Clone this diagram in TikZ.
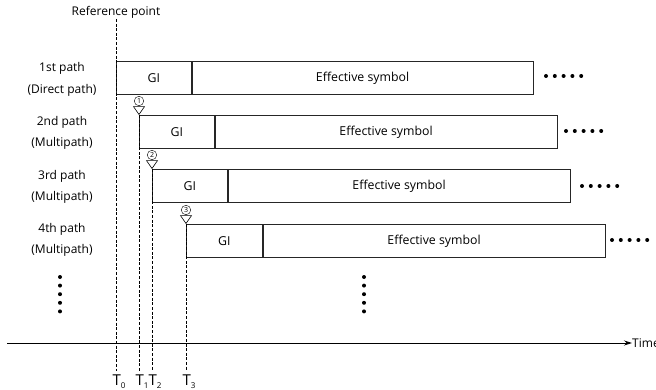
\documentclass[tikz,border=0pt]{standalone}
\usepackage{fontspec}
\setmainfont{Open Sans}
\usetikzlibrary{arrows.meta,shapes.geometric}
\begin{document}
\begin{tikzpicture}[x=1pt,y=-1pt,
  seg/.style={draw=black!85,line width=0.7pt,rectangle,inner sep=0pt,minimum height=33pt,anchor=north west,font=\fontsize{12.3}{14}\selectfont},
  lbl/.style={font=\fontsize{12}{14}\selectfont,inner sep=0pt},
  tlbl/.style={font=\fontsize{15}{16}\selectfont,inner sep=0pt,anchor=base},
  tmark/.style={draw,line width=0.6pt,isosceles triangle,shape border rotate=270,isosceles triangle apex angle=70,inner sep=0pt,minimum height=6pt,minimum width=11pt,anchor=apex},
  num/.style={draw,line width=0.4pt,circle,inner sep=0pt,minimum size=9.5pt,font=\fontsize{7}{8}\selectfont},
  dline/.style={dashed,line width=0.5pt,dash pattern=on 3pt off 1.6pt},
  dot/.style={fill,circle,inner sep=0pt,minimum size=4pt}]
\useasboundingbox (0,0) rectangle (656,390);

% reference point
\node[lbl] (ref) at (116,12) {Reference point};
\coordinate (r0) at (116,19);

% path labels
\node[lbl] (p1a) at (62,68) {1st path};
\node[lbl] (p1b) at (62,90) {(Direct path)};
\node[lbl] (p2a) at (62,122) {2nd path};
\node[lbl] (p2b) at (62,143) {(Multipath)};
\node[lbl] (p3a) at (62,176) {3rd path};
\node[lbl] (p3b) at (62,197) {(Multipath)};
\node[lbl] (p4a) at (62,229) {4th path};
\node[lbl] (p4b) at (62,250) {(Multipath)};

% boxes
\node[seg,minimum width=75pt] (g1) at (116,61) {GI};
\node[seg,minimum width=341pt] (e1) at (g1.north east) {Effective symbol};
\node[seg,minimum width=75pt] (g2) at (139,115) {GI};
\node[seg,minimum width=342pt] (e2) at (g2.north east) {Effective symbol};
\node[seg,minimum width=75pt] (g3) at (152,169) {GI};
\node[seg,minimum width=342pt] (e3) at (g3.north east) {Effective symbol};
\node[seg,minimum width=76pt] (g4) at (186,224) {GI};
\node[seg,minimum width=342pt] (e4) at (g4.north east) {Effective symbol};

% trailing dots
\foreach \i/\x/\y in {1/546/76,2/566/131,3/582/186,4/612/240}{
  \foreach \k in {0,...,4}{
    \node[dot] (h\i\k) at (\x+8.8*\k,\y) {};
  }
}

% vertical dots
\foreach \k in {0,...,4}{
  \node[dot] (vl\k) at (60,277+8.6*\k) {};
  \node[dot] (vm\k) at (364,277+8.6*\k) {};
}

% triangles and circled numbers
\node[tmark] (t1) at (139,115) {};
\node[num] (n1) at (139,101) {1};
\node[tmark] (t2) at (152,169) {};
\node[num] (n2) at (152,155) {2};
\node[tmark] (t3) at (186,224) {};
\node[num] (n3) at (186,210) {3};

% T labels
\node[tlbl] (T0) at (119,385) {T\raisebox{-3pt}{\fontsize{8}{9}\selectfont 0}};
\node[tlbl] (T1) at (142,385) {T\raisebox{-3pt}{\fontsize{8}{9}\selectfont 1}};
\node[tlbl] (T2) at (155,385) {T\raisebox{-3pt}{\fontsize{8}{9}\selectfont 2}};
\node[tlbl] (T3) at (189,385) {T\raisebox{-3pt}{\fontsize{8}{9}\selectfont 3}};

% dashed lines
\draw[dline] (r0) -- (116,371);
\draw[dline] (t1.apex) -- (139,371);
\draw[dline] (t2.apex) -- (152,371);
\draw[dline] (t3.apex) -- (186,371);

% time axis
\coordinate (a0) at (7,343);
\node[lbl,anchor=west] (time) at (632,343) {Time};
\draw[line width=0.8pt,-{Stealth[length=8pt,width=5pt]}] (a0) -- (time.west);
\end{tikzpicture}
\end{document}
